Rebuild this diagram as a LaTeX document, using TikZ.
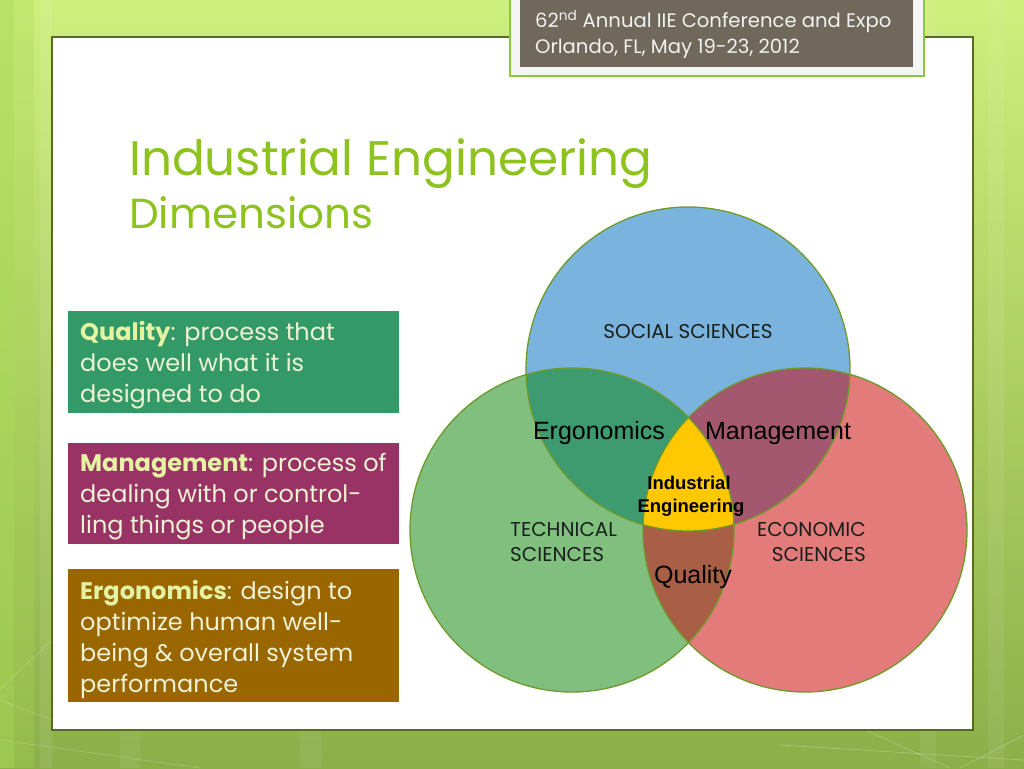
\documentclass[tikz,border=0pt]{standalone}
\usepackage{fontspec}
\setmainfont{Poppins}
\newfontfamily\arialf{Liberation Sans}
\definecolor{bgtop}{HTML}{CDEF7C}
\definecolor{bgbot}{HTML}{8CAF4A}
\definecolor{bgleft}{HTML}{A9DA55}
\definecolor{panelline}{HTML}{566B2A}
\definecolor{tboxline}{HTML}{8DC63F}
\definecolor{tboxfill}{HTML}{6F685B}
\definecolor{titlegreen}{HTML}{8EC21E}
\definecolor{qfill}{HTML}{339966}
\definecolor{mfill}{HTML}{993366}
\definecolor{efill}{HTML}{996600}
\definecolor{boldc}{HTML}{E4F2A4}
\definecolor{normc}{HTML}{EEF2D4}
\definecolor{cblue}{HTML}{7AB3DD}
\definecolor{cgreen}{HTML}{81BF7F}
\definecolor{cred}{HTML}{E47B7B}
\definecolor{cbg}{HTML}{3E9A6F}
\definecolor{cbr}{HTML}{A35870}
\definecolor{cgr}{HTML}{A85F45}
\definecolor{cyel}{HTML}{FFC800}
\definecolor{cline}{HTML}{6E9A2A}
\definecolor{vtext}{HTML}{18201C}
\tikzset{
  boxline/.style={anchor=base west, inner sep=0pt, text=normc, font=\fontsize{24}{28}\selectfont},
  vennsmall/.style={inner sep=0pt, text=vtext, font=\fontsize{20}{22}\selectfont},
  vennbig/.style={anchor=base, inner sep=0pt, text=black, font=\arialf\fontsize{25}{28}\selectfont},
  ring/.style={draw=cline, line width=1.3pt},
}
\begin{document}
\begin{tikzpicture}[x=1pt,y=-1pt]
\useasboundingbox (0,0) rectangle (1024,768);
% background
\shade[top color=bgtop, bottom color=bgbot] (0,0) rectangle (1024,768);
\fill[bgleft, opacity=0.55] (0,0) rectangle (14,768);
\fill[bgleft, opacity=0.30] (14,0) rectangle (34,768);
\fill[white, opacity=0.08] (40,0) rectangle (52,768);
\fill[white, opacity=0.07] (988,0) rectangle (1004,768);
\fill[white, opacity=0.06] (920,0) rectangle (936,768);
\fill[white, opacity=0.05] (120,730) rectangle (140,768);
\fill[white, opacity=0.05] (300,730) rectangle (322,768);
\draw[white, opacity=0.25, line width=0.7pt] (865,730) -- (950,768);
\draw[white, opacity=0.25, line width=0.7pt] (780,745) -- (1024,760);
\draw[white, opacity=0.25, line width=0.7pt] (960,768) -- (1024,735);
\draw[white, opacity=0.2, line width=0.7pt] (0,690) -- (52,640);
\draw[white, opacity=0.2, line width=0.7pt] (0,740) -- (200,768);
\draw[white, opacity=0.2, line width=0.7pt] (0,700) -- (52,720);
% white panel
\draw[panelline, fill=white, line width=1.2pt] (52,37) rectangle (973,730);
% conference box
\draw[tboxline, fill=white!96!black, line width=1.3pt] (510,-5) rectangle (924,76);
\fill[tboxfill] (520,-5) rectangle (913,67);
\node[anchor=base west, inner sep=0pt, text=white!95!black, font=\fontsize{19.6}{22}\selectfont] (conf1) at (535,28) {62\textsuperscript{nd} Annual IIE Conference and Expo};
\node[anchor=base west, inner sep=0pt, text=white!95!black, font=\fontsize{19.6}{22}\selectfont] (conf2) at (535,53) {Orlando, FL, May 19-23, 2012};
% title
\node[anchor=base west, inner sep=0pt, text=titlegreen, font=\fontsize{48.5}{54}\selectfont] (title1) at (129,175) {Industrial Engineering};
\node[anchor=base west, inner sep=0pt, text=titlegreen, font=\fontsize{42}{46}\selectfont] (title2) at (129,228) {Dimensions};
% definition boxes
\fill[qfill] (68,311) rectangle (399,413);
\fill[mfill] (68,443) rectangle (399,544);
\fill[efill] (68,569) rectangle (399,702);
\node[boxline] (q1) at (80,340) {\textcolor{boldc}{\bfseries Quality}: process that};
\node[boxline] (q2) at (80,371) {does well what it is};
\node[boxline] (q3) at (80,402) {designed to do};
\node[boxline] (m1) at (80,471) {\textcolor{boldc}{\bfseries Management}: process of};
\node[boxline] (m2) at (80,502) {dealing with or control-};
\node[boxline] (m3) at (80,533) {ling things or people};
\node[boxline] (e1) at (80,599) {\textcolor{boldc}{\bfseries Ergonomics}: design to};
\node[boxline] (e2) at (80,630) {optimize human well-};
\node[boxline] (e3) at (80,661) {being \& overall system};
\node[boxline] (e4) at (80,692) {performance};
% Venn diagram
\coordinate (B) at (688,369);
\coordinate (G) at (572,530);
\coordinate (R) at (805,530);
\fill[cblue] (B) circle (162);
\fill[cgreen] (G) circle (162);
\fill[cred] (R) circle (162);
\begin{scope}\clip (B) circle (162); \fill[cbg] (G) circle (162); \end{scope}
\begin{scope}\clip (B) circle (162); \fill[cbr] (R) circle (162); \end{scope}
\begin{scope}\clip (G) circle (162); \fill[cgr] (R) circle (162); \end{scope}
\begin{scope}\clip (B) circle (162); \clip (G) circle (162); \fill[cyel] (R) circle (162); \end{scope}
\draw[ring] (B) circle (162);
\draw[ring] (G) circle (162);
\draw[ring] (R) circle (162);
\node[vennsmall, anchor=base] (social) at (688,338) {SOCIAL SCIENCES};
\node[vennsmall, anchor=base west] (tech1) at (510,536) {TECHNICAL};
\node[vennsmall, anchor=base west] (tech2) at (510,561) {SCIENCES};
\node[vennsmall, anchor=base east] (eco1) at (866,536) {ECONOMIC};
\node[vennsmall, anchor=base east] (eco2) at (866,561) {SCIENCES};
\node[vennbig] (ergo) at (599,439) {Ergonomics};
\node[vennbig] (mgmt) at (778,439) {Management};
\node[vennbig] (qual) at (693,583) {Quality};
\node[anchor=base, inner sep=0pt, font=\arialf\bfseries\fontsize{18.5}{20}\selectfont] (ie1) at (689,489) {Industrial};
\node[anchor=base, inner sep=0pt, font=\arialf\bfseries\fontsize{18.5}{20}\selectfont] (ie2) at (691,512) {Engineering};
\end{tikzpicture}
\end{document}
